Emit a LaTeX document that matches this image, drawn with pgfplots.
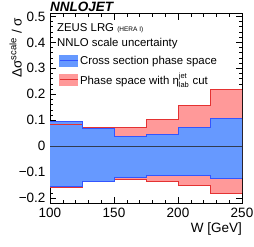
\documentclass[border=0pt]{standalone}
\usepackage{pgfplots}
\pgfplotsset{compat=1.18}
\usepgfplotslibrary{fillbetween}
\usepackage{fontspec}
\setmainfont{Liberation Sans}
\definecolor{bfill}{RGB}{102,153,255}
\definecolor{bline}{RGB}{51,85,255}
\definecolor{rfill}{RGB}{255,153,153}
\definecolor{rline}{RGB}{228,50,50}
\begin{document}
\begin{tikzpicture}
\begin{axis}[
  at={(0,0)}, anchor=south west,
  scale only axis, width=192pt, height=189.5pt,
  xmin=100, xmax=250, ymin=-0.22, ymax=0.51,
  xtick={100,150,200,250}, minor x tick num=4,
  ytick={-0.2,-0.1,0,0.1,0.2,0.3,0.4,0.5},
  yticklabels={−0.2,−0.1,0,0.1,0.2,0.3,0.4,0.5},
  xticklabels={100,150,200,250},
  minor y tick num=4,
  tick align=inside, tick pos=both,
  major tick length=6pt, minor tick length=3pt,
  tick style={black, line width=0.6pt},
  axis line style={line width=0.8pt},
  ticklabel style={font=\fontsize{13.5}{15}\selectfont},
  xticklabel style={yshift=-1pt},
  yticklabel style={xshift=-1pt},
  xlabel={W [GeV]}, ylabel={Δσ\textsuperscript{scale} / σ},
  label style={font=\fontsize{13.5}{15}\selectfont},
  xlabel style={at={(axis description cs:1,0)}, anchor=north east, yshift=-19pt, inner sep=0pt},
  ylabel style={at={(axis description cs:0,1)}, anchor=south east, yshift=28pt, inner sep=0pt, xshift=-4pt},
  legend style={at={(axis description cs:0.047,0.79)}, anchor=north west, draw=none, fill=none, inner sep=0pt, row sep=4pt, cells={anchor=west}, font=\fontsize{11.4}{13}\selectfont},
  clip mode=individual,
]
\addplot[const plot, draw=none, name path=ru, forget plot] coordinates {(100,0.083) (125,0.071) (150,0.073) (175,0.103) (200,0.156) (225,0.217) (250,0.217)};
\addplot[const plot, draw=none, name path=rl, forget plot] coordinates {(100,-0.158) (125,-0.137) (150,-0.128) (175,-0.136) (200,-0.152) (225,-0.181) (250,-0.181)};
\addplot[const plot, draw=none, name path=bu, forget plot] coordinates {(100,0.094) (125,0.070) (150,0.038) (175,0.044) (200,0.072) (225,0.107) (250,0.107)};
\addplot[const plot, draw=none, name path=bl, forget plot] coordinates {(100,-0.156) (125,-0.137) (150,-0.119) (175,-0.111) (200,-0.113) (225,-0.123) (250,-0.123)};
\addplot[rfill, draw=none, forget plot] fill between[of=ru and rl];
\addplot[bfill, draw=none, forget plot] fill between[of=bu and bl];
\addplot[const plot, rline, line width=0.8pt, forget plot] coordinates {(100,0.083) (125,0.071) (150,0.073) (175,0.103) (200,0.156) (225,0.217) (250,0.217)};
\addplot[const plot, rline, line width=0.8pt, forget plot] coordinates {(100,-0.158) (125,-0.137) (150,-0.128) (175,-0.136) (200,-0.152) (225,-0.181) (250,-0.181)};
\addplot[const plot, bline, line width=0.8pt, forget plot] coordinates {(100,0.094) (125,0.070) (150,0.038) (175,0.044) (200,0.072) (225,0.107) (250,0.107)};
\addplot[const plot, bline, line width=0.8pt, forget plot] coordinates {(100,-0.156) (125,-0.137) (150,-0.119) (175,-0.111) (200,-0.113) (225,-0.123) (250,-0.123)};
\addplot[color={rgb,255:red,50;green,60;blue,80}, line width=0.9pt, forget plot] coordinates {(100,0) (250,0)};
\addlegendimage{legend image code/.code={\fill[bfill] (0pt,-5.5pt) rectangle (18pt,5.5pt); \draw[bline, line width=0.8pt] (0pt,0pt) -- (18pt,0pt);}}
\addlegendentry{Cross section phase space}
\addlegendimage{legend image code/.code={\fill[rfill] (0pt,-5.5pt) rectangle (18pt,5.5pt); \draw[rline, line width=0.8pt] (0pt,0pt) -- (18pt,0pt);}}
\addlegendentry{Phase space with η$^{\mbox{\fontsize{7.5}{8}\selectfont jet}}_{\mbox{\fontsize{7.5}{8}\selectfont lab}}$ cut}
\node[anchor=base west, inner sep=0pt, font=\fontsize{11.4}{13}\selectfont] at (axis description cs:0.036,0.908) {ZEUS LRG {\fontsize{6.5}{7}\selectfont (HERA I)}};
\node[anchor=base west, inner sep=0pt, font=\fontsize{11.4}{13}\selectfont] at (axis description cs:0.036,0.830) {NNLO scale uncertainty};
\node[anchor=base west, inner sep=0pt, font=\fontsize{13.5}{15}\selectfont\bfseries\itshape] at (axis description cs:0,1.012) {NNLOJET};
\end{axis}
\pgfresetboundingbox
\useasboundingbox (-50pt,-42.7pt) rectangle (204pt,203.3pt);
\end{tikzpicture}
\end{document}
